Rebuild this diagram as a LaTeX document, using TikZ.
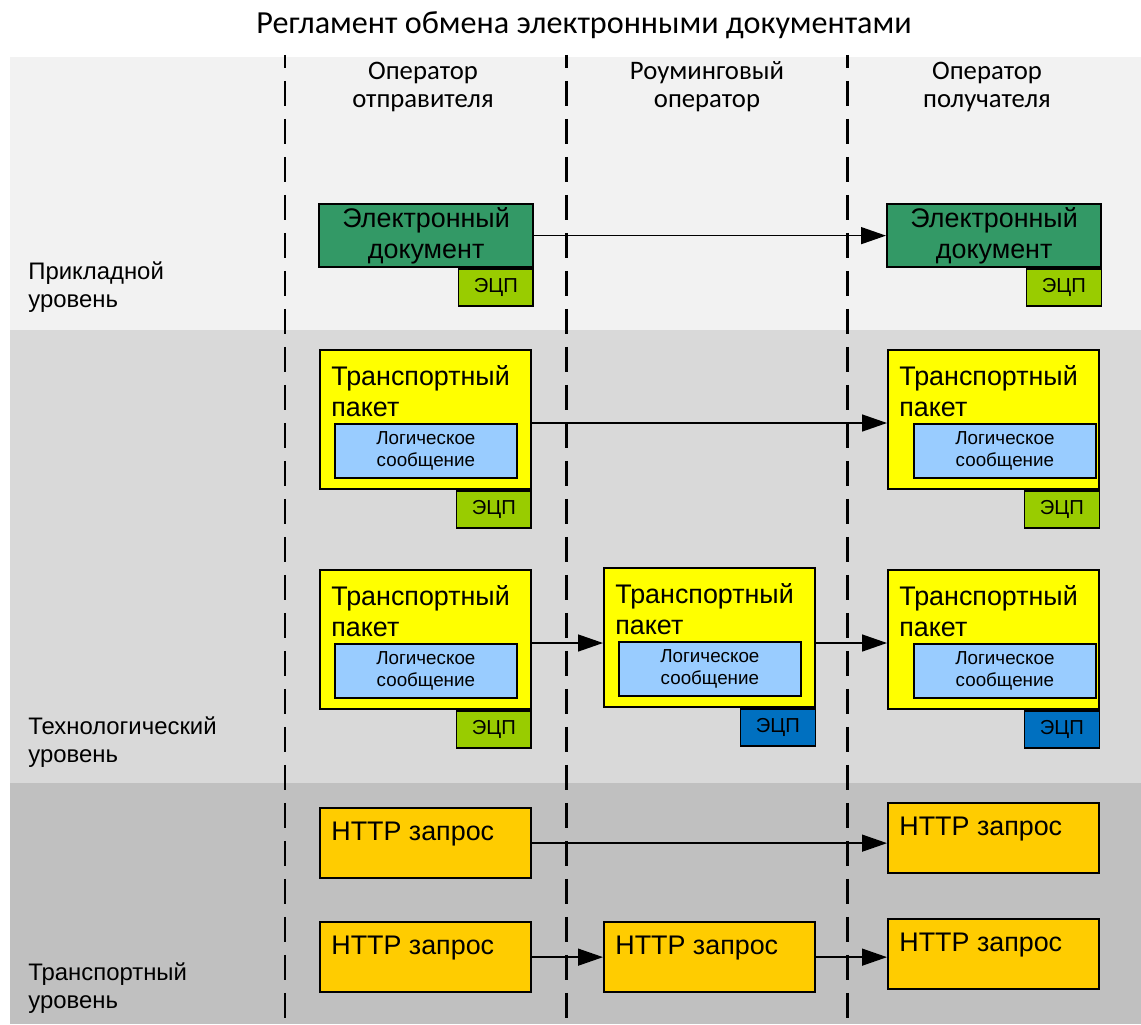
\documentclass[tikz,border=0pt]{standalone}
\usepackage{fontspec}
\setmainfont{Liberation Sans}
\newfontfamily\headfont{Carlito}
\usepackage{xcolor}
\usetikzlibrary{positioning,arrows.meta}

\definecolor{band1}{HTML}{F2F2F2}
\definecolor{band2}{HTML}{D9D9D9}
\definecolor{band3}{HTML}{C0C0C0}
\definecolor{docgreen}{HTML}{339966}
\definecolor{siggreen}{HTML}{99CC00}
\definecolor{sigblue}{HTML}{0070C0}
\definecolor{pktyellow}{HTML}{FFFF00}
\definecolor{msgblue}{HTML}{99CCFF}
\definecolor{reqorange}{HTML}{FFCC00}

\tikzset{
  box/.style={draw, line width=1.3pt, anchor=north west, inner sep=0pt},
  doc/.style={box, fill=docgreen, minimum width=4.28cm, minimum height=1.26cm,
    align=center, font=\fontsize{15.3}{18}\selectfont},
  pkt/.style={box, fill=pktyellow, minimum width=4.22cm, minimum height=2.78cm},
  msg/.style={box, line width=1pt, fill=msgblue, minimum width=3.64cm, minimum height=1.08cm,
    align=center, font=\fontsize{10.7}{13}\selectfont},
  req/.style={box, fill=reqorange, minimum width=4.22cm, minimum height=1.4cm},
  sig/.style={draw, line width=1pt, anchor=north east, inner sep=0pt,
    minimum width=1.5cm, minimum height=0.74cm, font=\fontsize{11.5}{12}\selectfont},
  boxtext/.style={anchor=north west, inner sep=0pt, align=left, font=\fontsize{15.3}{17.6}\selectfont},
  head/.style={align=center, font=\headfont\fontsize{15.2}{16}\selectfont},
  level/.style={anchor=west, align=left, inner sep=0pt, font=\fontsize{13.6}{16}\selectfont},
  divider/.style={line width=1.7pt, dash pattern=on 0.5cm off 0.26cm, dash phase=0.24cm},
  flow/.style={-{Triangle[length=0.5cm,width=0.34cm]}, line width=0.8pt}
}

\begin{document}
\begin{tikzpicture}[x=0.02cm, y=-0.02cm]
\useasboundingbox (0,0) rectangle (1141,1024);
\fill[white] (0,0) rectangle (1141,1024);
% bands
\fill[band1] (10,57) rectangle (1141,330);
\fill[band2] (10,330) rectangle (1141,783);
\fill[band3] (10,783) rectangle (1141,1024);

\node[font=\headfont\fontsize{18.3}{20}\selectfont] (title) at (584,25) {Регламент обмена электронными документами};

\foreach \x in {285,566,847}
  \draw[divider] (\x,55) -- (\x,1024);

% column heads
\node[head] (sender) at (423,87) {Оператор\\отправителя};
\node[head] (roaming) at (707,87) {Роуминговый\\оператор};
\node[head] (receiver) at (987,87) {Оператор\\получателя};

% levels
\node[level] (applied) at (28,287) {Прикладной\\уровень};
\node[level] (tech) at (28,742) {Технологический\\уровень};
\node[level] (transp) at (28,988) {Транспортный\\уровень};

% application level
\node[doc] (d1) at (318,203) {Электронный\\документ};
\node[sig, fill=siggreen] (d1s) at (d1.south east) {ЭЦП};
\node[doc] (d2) at (886,203) {Электронный\\документ};
\node[sig, fill=siggreen] (d2s) at (d2.south east) {ЭЦП};

% technological level, direct
\node[pkt] (p1) at (319,349) {};
\node[boxtext] (p1t) at ([shift={(12,16)}]p1.north west) {Транспортный\\пакет};
\node[msg] (m1) at ([shift={(15,74)}]p1.north west) {Логическое\\сообщение};
\node[sig, fill=siggreen] (p1s) at (p1.south east) {ЭЦП};

\node[pkt] (p2) at (887,349) {};
\node[boxtext] (p2t) at ([shift={(12,16)}]p2.north west) {Транспортный\\пакет};
\node[msg] (m2) at ([shift={(26,74)}]p2.north west) {Логическое\\сообщение};
\node[sig, fill=siggreen] (p2s) at (p2.south east) {ЭЦП};

% technological level, roaming
\node[pkt] (p3) at (319,569) {};
\node[boxtext] (p3t) at ([shift={(12,16)}]p3.north west) {Транспортный\\пакет};
\node[msg] (m3) at ([shift={(15,74)}]p3.north west) {Логическое\\сообщение};
\node[sig, fill=siggreen] (p3s) at (p3.south east) {ЭЦП};

\node[pkt] (p4) at (603,567) {};
\node[boxtext] (p4t) at ([shift={(12,16)}]p4.north west) {Транспортный\\пакет};
\node[msg] (m4) at ([shift={(15,74)}]p4.north west) {Логическое\\сообщение};
\node[sig, fill=sigblue] (p4s) at (p4.south east) {ЭЦП};

\node[pkt] (p5) at (887,569) {};
\node[boxtext] (p5t) at ([shift={(12,16)}]p5.north west) {Транспортный\\пакет};
\node[msg] (m5) at ([shift={(26,74)}]p5.north west) {Логическое\\сообщение};
\node[sig, fill=sigblue] (p5s) at (p5.south east) {ЭЦП};

% transport level
\node[req] (r1) at (319,807) {};
\node[boxtext] (r1t) at ([shift={(12,15)}]r1.north west) {HTTP запрос};
\node[req] (r2) at (887,802) {};
\node[boxtext] (r2t) at ([shift={(12,15)}]r2.north west) {HTTP запрос};

\node[req] (r3) at (319,921) {};
\node[boxtext] (r3t) at ([shift={(12,15)}]r3.north west) {HTTP запрос};
\node[req] (r4) at (603,921) {};
\node[boxtext] (r4t) at ([shift={(12,15)}]r4.north west) {HTTP запрос};
\node[req] (r5) at (887,918) {};
\node[boxtext] (r5t) at ([shift={(12,15)}]r5.north west) {HTTP запрос};

% messages
\draw[flow] (d1) -- (d2);
\draw[flow] (p1.east |- m1.north) -- (p2.west |- m1.north);
\draw[flow] (p3.east |- m3.north) -- (p4.west |- m3.north);
\draw[flow] (p4.east |- m3.north) -- (p5.west |- m3.north);
\draw[flow] (r1.east) -- (r2.west |- r1.east);
\draw[flow] (r3.east) -- (r4.west |- r3.east);
\draw[flow] (r4.east |- r3.east) -- (r5.west |- r3.east);
\end{tikzpicture}
\end{document}
